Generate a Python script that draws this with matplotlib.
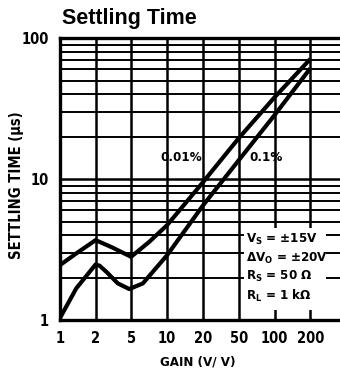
import numpy as np
import matplotlib
matplotlib.use("Agg")
import matplotlib.pyplot as plt
from matplotlib.patches import Rectangle

plt.rcParams["font.family"] = ["DejaVu Sans"]
plt.rcParams["font.stretch"] = "condensed"
plt.rcParams["font.weight"] = "bold"
plt.rcParams["mathtext.fontset"] = "custom"
plt.rcParams["mathtext.rm"] = "DejaVu Sans:bold"
plt.rcParams["mathtext.bf"] = "DejaVu Sans:bold"
plt.rcParams["mathtext.it"] = "DejaVu Sans:bold"

# x axis is categorical (evenly spaced gain steps)
gain_labels = ["1", "2", "5", "10", "20", "50", "100", "200"]

# curves, positions in gain-step units
pos_001 = [0, 0.46, 1, 1.48, 1.99, 2.5, 3, 4, 5, 6, 7]
time_001 = [2.45, 2.97, 3.69, 3.26, 2.81, 3.59, 4.72, 9.5, 19.5, 38, 71]

pos_01 = [0, 0.46, 1, 1.11, 1.3, 1.62, 1.94, 2.32, 2.69, 3, 4, 5, 6, 7]
time_01 = [1.03, 1.68, 2.48, 2.43, 2.2, 1.82, 1.66, 1.82, 2.34, 2.89,
           6.5, 13.6, 28.4, 61]

cond_lines = [r"V$_\mathrm{S}$ = ±15V", r"ΔV$_\mathrm{O}$ = ±20V",
              r"R$_\mathrm{S}$ = 50 Ω", r"R$_\mathrm{L}$ = 1 kΩ"]

fig = plt.figure(figsize=(3.4, 3.77), dpi=100)
ax = fig.add_axes([0.176, 0.151, 0.824, 0.748])
ax.set_yscale("log")
ax.set_ylim(1, 100)
ax.set_xlim(0, 7.83)

# grid: vertical lines at each gain step, horizontal log grid
for i in range(len(gain_labels)):
    ax.axvline(i, color="black", lw=1.8, zorder=1)
for dec in [1, 10]:
    for m in range(1, 10):
        v = dec * m
        if 1 < v < 100:
            ax.axhline(v, color="black", lw=1.8 if m == 1 else 1.4, zorder=1)

# white box behind the test conditions
ax.add_patch(Rectangle((5.15, 1.17), 2.3, 3.35, facecolor="white",
                       edgecolor="none", zorder=2))

ax.plot(pos_001, time_001, color="black", lw=3, solid_joinstyle="round",
        solid_capstyle="butt", zorder=3)
ax.plot(pos_01, time_01, color="black", lw=3, solid_joinstyle="round",
        solid_capstyle="butt", zorder=3)

ax.text(3.39, 14.3, "0.01%", ha="center", va="center", fontsize=9.5, zorder=4)
ax.text(5.75, 14.3, "0.1%", ha="center", va="center", fontsize=9.5, zorder=4)

for k, s in enumerate(cond_lines):
    ax.text(5.2, 3.75 / (1.36 ** k), s, ha="left", va="center", fontsize=9.5,
            zorder=4)

ax.set_xticks(range(len(gain_labels)))
ax.set_xticklabels(gain_labels)
ax.set_yticks([1, 10, 100])
ax.set_yticklabels(["1", "10", "100"])
ax.yaxis.set_minor_locator(matplotlib.ticker.NullLocator())
ax.tick_params(length=0, labelsize=10.5, pad=8)
ax.tick_params(axis="y", pad=8)

for side in ["left", "top", "bottom"]:
    ax.spines[side].set_linewidth(2.4)
ax.spines["right"].set_visible(False)

fig.text(198 / 340, 1 - 362 / 377, "GAIN (V/ V)", fontsize=9.5,
         fontweight="bold", ha="center", va="center")
fig.text(17 / 340, 1 - 185 / 377, "SETTLING TIME (μs)", fontsize=10.5,
         fontweight="bold", rotation=90, ha="center", va="center")
fig.text(0.182, 0.95, "Settling Time", fontsize=15.5, fontweight="bold",
         family="Liberation Sans", stretch="normal", ha="left", va="center")

fig.savefig("out.png", dpi=100)
